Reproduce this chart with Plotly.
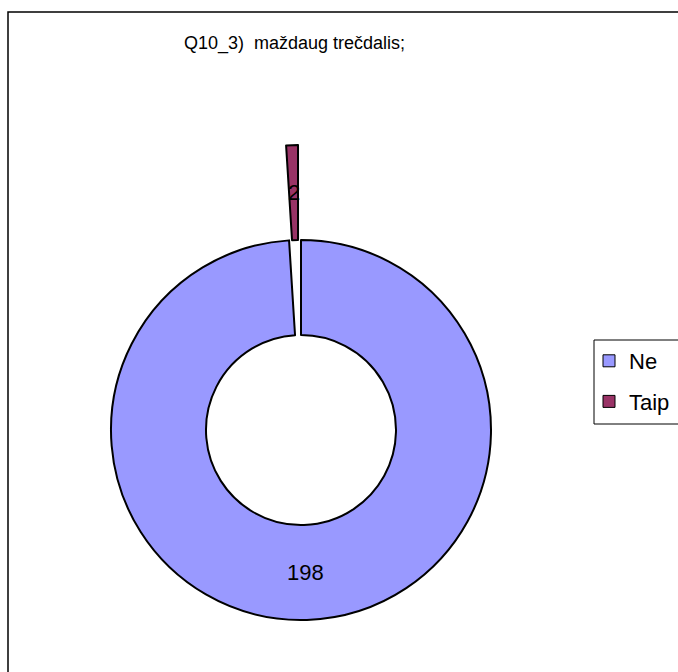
import math
import plotly.graph_objects as go

# Survey answers for Q10_3
labels = ["Ne", "Taip"]
values = [198, 2]
colors = ["#9999FF", "#993366"]
title_text = "Q10_3)  maždaug trečdalis;"

W, H = 678, 672
FONT = "Liberation Sans, Arial, sans-serif"

# ring geometry (pixels)
CX, CY, R = 301, 430, 190
HOLE = 0.5
PULL = 0.5          # "Taip" slice is exploded by half the radius
LINE_W = 2


def px_x(x):
    return x / W


def px_y(y):
    return 1 - y / H


def domain_for(cx, cy, r):
    return dict(x=[px_x(cx - r), px_x(cx + r)], y=[px_y(cy + r), px_y(cy - r)])


total = sum(values)


def mid_angle(i):
    # clockwise from 12 o'clock, degrees
    before = sum(values[:i])
    return 360.0 * (before + values[i] / 2) / total


def polar(cx, cy, r, deg):
    a = math.radians(deg)
    return cx + r * math.sin(a), cy - r * math.cos(a)


# centre of the exploded slice
exp_cx, exp_cy = polar(CX, CY, PULL * R, mid_angle(1))

fig = go.Figure()

common = dict(
    labels=labels,
    values=values,
    hole=HOLE,
    sort=False,
    direction="clockwise",
    rotation=0,
    textinfo="none",
    hoverinfo="label+value",
    showlegend=False,
)

# main ring: "Ne" slice, the gap left by the exploded slice stays empty
fig.add_trace(go.Pie(
    domain=domain_for(CX, CY, R),
    marker=dict(colors=[colors[0], "rgba(0,0,0,0)"],
                line=dict(color="black", width=[LINE_W, 0])),
    **common,
))

# exploded "Taip" slice
fig.add_trace(go.Pie(
    domain=domain_for(exp_cx, exp_cy, R),
    marker=dict(colors=["rgba(0,0,0,0)", colors[1]],
                line=dict(color="black", width=[0, LINE_W])),
    **common,
))

# legend keys (tiny pies tucked under the legend box)
for i, (lab, val, col) in enumerate(zip(labels, values, colors)):
    fig.add_trace(go.Pie(
        labels=[lab], values=[val], sort=False, textinfo="none",
        hoverinfo="skip",
        marker=dict(colors=[col], line=dict(color="black", width=1)),
        domain=dict(x=[px_x(640), px_x(641)], y=[px_y(381), px_y(380)]),
        legendgroup=lab, showlegend=True,
    ))

annotations = [
    dict(text=title_text, x=px_x(294), y=px_y(44), xref="paper", yref="paper",
         showarrow=False, xanchor="center", yanchor="middle",
         font=dict(family=FONT, size=18, color="black")),
]

# value labels at the middle of each ring slice
mid_r = R * (1 + HOLE) / 2
centres = [(CX, CY), (exp_cx, exp_cy)]
for i, v in enumerate(values):
    lx, ly = polar(centres[i][0], centres[i][1], mid_r, mid_angle(i))
    annotations.append(dict(
        text=str(v), x=px_x(lx), y=px_y(ly), xref="paper", yref="paper",
        showarrow=False, xanchor="center", yanchor="middle",
        font=dict(family=FONT, size=22, color="black"),
    ))

shapes = [
    # chart frame
    dict(type="rect", xref="paper", yref="paper", layer="below",
         x0=px_x(8), y0=px_y(12), x1=1.2, y1=-0.2,
         line=dict(color="black", width=1.5), fillcolor="white"),
    # legend box
    dict(type="rect", xref="paper", yref="paper", layer="above",
         x0=px_x(594), y0=px_y(340), x1=1.2, y1=px_y(424),
         line=dict(color="black", width=1), fillcolor="white"),
]

fig.update_layout(
    width=W, height=H,
    margin=dict(l=0, r=0, t=0, b=0, autoexpand=False),
    paper_bgcolor="white",
    plot_bgcolor="white",
    annotations=annotations,
    shapes=shapes,
    legend=dict(
        x=px_x(589), y=px_y(340), xanchor="left", yanchor="top",
        bgcolor="rgba(0,0,0,0)", borderwidth=0,
        font=dict(family=FONT, size=22, color="black"),
        traceorder="grouped", tracegroupgap=9,
    ),
)

fig.write_html("out.html")
